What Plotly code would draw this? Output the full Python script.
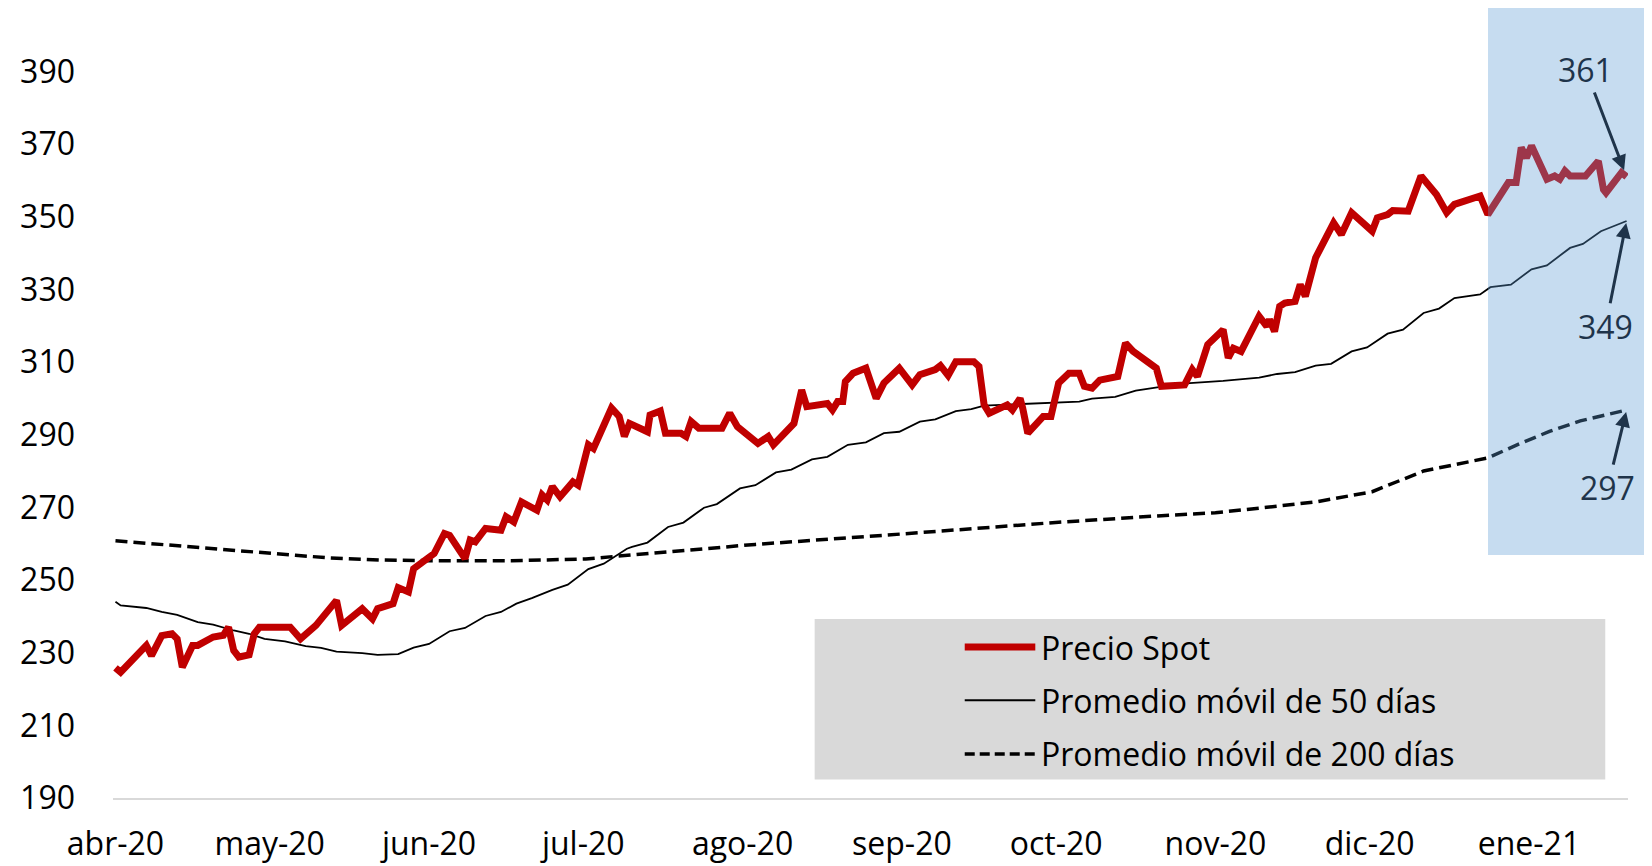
import pandas as pd
import plotly.graph_objects as go

# ---------------- data (days counted from 2020-04-01) ----------------
base_date = "2020-04-01"

spot_day = [0, 1, 6, 7, 9, 11, 12, 13, 15, 16, 19, 21, 22, 23, 24, 26, 27, 28, 34, 36,
            39, 41, 43, 44, 48, 50, 51, 54, 55, 57, 58, 62, 64, 65, 68, 69, 70, 72, 75, 76,
            77.5, 79, 82, 83, 84, 85, 86.5, 89, 90, 92, 93, 96.5, 98, 99, 100, 103.5, 104, 106, 107, 110,
            111, 112, 113.5, 118, 119.5, 121, 125, 127, 128, 132, 133.5, 134.5, 138.5, 139.5, 140.5, 141.5, 142, 143.5, 146, 148,
            149.5, 152.5, 155, 156.5, 159.5, 160.5, 162, 163.5, 167, 168, 169, 170, 173.5, 174.5, 176, 176.5, 177.5, 180.5, 182, 183.5,
            185.5, 187.5, 188.5, 190, 191.5, 195, 196.5, 198, 202.5, 203.5, 208, 209.5, 210.5, 212.5, 215.5, 216.5, 217.5, 219, 222.5, 224,
            224.5, 225.5, 226.5, 227.5, 229.5, 230.5, 231.5, 233.5, 237, 238.5, 240.5, 244.5, 245.5, 247.5, 248.5, 251.5, 254, 257, 259, 260.5,
            265.5, 267, 271, 272.5, 273.5, 274.5, 275.5, 278.5, 280, 281, 282, 283, 286, 288.5, 289.5, 290, 293, 294]
spot_val = [225.8, 224.6, 232, 229.2, 234.7, 235.2, 233.8, 226, 232, 232, 234.3, 234.8, 237, 230.6, 228.8, 229.4, 235.2, 237, 237, 233.8,
            237.5, 240.7, 244.4, 237.5, 242.1, 239.3, 242.1, 243.5, 247.9, 246.7, 253.1, 257.3, 262.8, 262.3, 255.9, 261, 260.5, 264.2, 263.7, 267.4,
            266, 271.5, 269.2, 273.4, 272, 275.7, 272.9, 277, 276.1, 287.2, 286.2, 297.3, 295, 289.5, 293.1, 290.8, 295.4, 296.5, 290.4, 290.4,
            289.5, 293.6, 291.8, 291.8, 295.9, 292.2, 287.6, 289.5, 287.2, 293.1, 302.3, 297.7, 298.6, 296.8, 299.1, 299.1, 304.6, 306.9, 308.3, 300,
            304.2, 308.3, 303.7, 306.5, 307.9, 309, 306.3, 310.1, 310.1, 308.8, 298.2, 295.9, 298.2, 296.8, 300, 297.3, 290.4, 295, 295, 304.2,
            306.9, 306.9, 303.3, 302.8, 305, 306, 315.2, 312.9, 308.3, 303.3, 303.7, 307.9, 306, 314.8, 318.9, 311.1, 313.8, 312.9, 322.6, 319.8,
            321.7, 318.4, 325.3, 326.2, 326.7, 331.3, 328.1, 338.7, 348.3, 345.1, 351.1, 346, 349.7, 350.6, 351.7, 351.5, 361.2, 356.1, 351.1, 353.4,
            355.7, 350.6, 359.4, 359.4, 369, 366.2, 369.5, 360.3, 361.2, 360.3, 362.6, 361.2, 361.2, 365.3, 357.5, 356.6, 362.1, 361]

ma50_day = [0, 1, 6, 9, 12, 16, 19, 23, 26, 29, 33, 37, 40, 43, 48, 51, 55, 58, 61, 65,
            68, 72, 75, 78, 81, 85, 88, 92, 95, 99.5, 100.5, 103.5, 107.5, 110.5, 114.5, 117, 121.5, 124.5, 128.5, 131.5,
            135.5, 138.5, 142.5, 146, 149.5, 152.5, 156.5, 159.5, 163.5, 166.5, 169, 172.5, 177.5, 181, 187.5, 190, 194.5, 198.5, 203, 209,
            215.5, 222.5, 226, 229.5, 233.5, 236.5, 240.5, 243.5, 247.5, 250.5, 254.5, 257.5, 260.5, 265.5, 267.5, 271.5, 275.5, 278.5, 283, 285.5,
            289, 294]
ma50_val = [244, 243, 242.3, 241.2, 240.4, 238.4, 237.7, 236.1, 235.2, 233.8, 233.1, 231.8, 231.3, 230.3, 229.9, 229.4, 229.6, 231.4, 232.4, 235.9,
            236.8, 240.1, 241.2, 243.5, 245, 247.3, 248.7, 253, 254.5, 258.6, 259.1, 260.3, 264.6, 265.8, 269.9, 270.9, 275.2, 276.1, 279.6, 280.4,
            283.2, 283.9, 287.2, 287.9, 290.4, 290.8, 293.6, 294.2, 296.5, 297, 298, 298.2, 298.5, 298.6, 299.1, 299.9, 300.4, 302.1, 303.1, 304.2,
            304.8, 305.7, 306.7, 307.2, 309, 309.5, 312.9, 314, 317.8, 318.9, 323.5, 324.7, 327.6, 328.6, 330.6, 331.3, 335.5, 336.6, 341.4, 342.5,
            346, 348.8]

ma200_day = [0, 6, 12.5, 19, 25.5, 35, 41.5, 51.5, 61, 77, 91.5, 106, 124.5, 149.5, 173, 183.5, 203.5, 214, 224, 234,
             244.5, 254.5, 267, 273, 279, 285, 294]
ma200_val = [260.8, 260.1, 259.2, 258.5, 257.8, 256.8, 256.1, 255.5, 255.3, 255.3, 255.8, 257.6, 259.8, 262.3, 264.7, 265.9, 267.7, 268.5, 270, 271.6,
             274.3, 280, 283.6, 287.4, 290.9, 293.8, 296.8]

month_ticks = ["2020-04-01", "2020-05-01", "2020-06-01", "2020-07-01", "2020-08-01",
               "2020-09-01", "2020-10-01", "2020-11-01", "2020-12-01", "2021-01-01"]
month_labels = ["abr-20", "may-20", "jun-20", "jul-20", "ago-20",
                "sep-20", "oct-20", "nov-20", "dic-20", "ene-21"]
y_ticks = [190, 210, 230, 250, 270, 290, 310, 330, 350, 370, 390]

series_names = ["Precio Spot", "Promedio móvil de 50 días", "Promedio móvil de 200 días"]

# ---------------- build ----------------
t0 = pd.Timestamp(base_date)
spot_x = t0 + pd.to_timedelta(spot_day, unit="D")
ma50_x = t0 + pd.to_timedelta(ma50_day, unit="D")
ma200_x = t0 + pd.to_timedelta(ma200_day, unit="D")

RED = "#C00000"
NAVY = "#1F344A"
FONT = "Open Sans"
FS = 32

fig = go.Figure()
fig.add_trace(go.Scatter(x=ma200_x, y=ma200_val, mode="lines", name=series_names[2],
                         line=dict(color="black", width=3.5, dash="12px,6px")))
fig.add_trace(go.Scatter(x=ma50_x, y=ma50_val, mode="lines", name=series_names[1],
                         line=dict(color="black", width=1.8)))
fig.add_trace(go.Scatter(x=spot_x, y=spot_val, mode="lines", name=series_names[0],
                         line=dict(color=RED, width=7)))

# page layout: body keeps its default 8px margin; target pixel positions are
# mapped to page pixels with small empirical corrections for the capture.
K = 0.979          # vertical capture factor
SX = 1.0046        # horizontal correction about x=1490
OFF = 8
W = 1652 - 2 * OFF
H = 868

def py(t):
    return t / K

def hx(x):
    return 1490 - (1490 - x) * SX

PL, PR = hx(103), 1628
PT, PB = py(34.4), py(795.5)               # y=400 .. y=190
L, R = PL - OFF, W - (PR - OFF)
T, B = PT - OFF, (OFF + H) - PB
pw, ph = PR - PL, PB - PT

# x range: 2020-04-01 at target x=105.5, 2021-01-01 at target x=1527.7
a_px, j_px = hx(105.5), hx(1527.7)
px_per_day = (j_px - a_px) / 275
x_start = t0 - pd.to_timedelta((a_px - PL) / px_per_day, unit="D")
x_end = t0 + pd.to_timedelta((PR - a_px) / px_per_day, unit="D")

def px_x(p):
    return (hx(p) - PL) / pw

def px_y(t):
    return (PB - py(t)) / ph

shapes = []
# highlighted recent period
shapes.append(dict(type="rect", xref="paper", yref="paper",
                   x0=px_x(1486.5), x1=px_x(1650), y0=px_y(553), y1=px_y(7.5),
                   fillcolor="#5B9BD5", opacity=0.35, line=dict(width=0), layer="above"))
# legend box
shapes.append(dict(type="rect", xref="paper", yref="paper",
                   x0=px_x(809), x1=px_x(1604.5), y0=px_y(777), y1=px_y(617),
                   fillcolor="#D9D9D9", line=dict(width=0), layer="below"))
legend_styles = [dict(color=RED, width=7), dict(color="black", width=1.8),
                 dict(color="black", width=3.5, dash="10px,5px")]
legend_rows = [645, 698, 751.5]
annotations = []
for name, st, yy in zip(series_names, legend_styles, legend_rows):
    shapes.append(dict(type="line", xref="paper", yref="paper",
                       x0=px_x(960), x1=px_x(1031), y0=px_y(yy), y1=px_y(yy),
                       line=st, layer="above"))
    annotations.append(dict(xref="paper", yref="paper", x=px_x(1035), y=px_y(yy),
                            text=name, showarrow=False, xanchor="left", yanchor="middle",
                            font=dict(family=FONT, size=FS, color="black")))

# end-value callouts
callouts = [
    (spot_x[-1], spot_val[-1], -41, -105, 7),
    (ma50_x[-1], ma50_val[-1], -21, 103, 2),
    (ma200_x[-1], ma200_val[-1], -19, 76, 2),
]
for cx, cy, ax, ay, so in callouts:
    annotations.append(dict(x=cx, y=cy, xref="x", yref="y", text=f"{cy:.0f}",
                            showarrow=True, ax=ax, ay=py(ay), arrowhead=2, arrowsize=1,
                            arrowwidth=3, arrowcolor=NAVY, standoff=so,
                            font=dict(family=FONT, size=FS, color=NAVY)))

fig.update_layout(
    width=W, height=H,
    margin=dict(l=L, r=R, t=T, b=B, pad=0),
    plot_bgcolor="white", paper_bgcolor="white",
    showlegend=False,
    font=dict(family=FONT, size=FS, color="black"),
    shapes=shapes, annotations=annotations,
)
fig.update_xaxes(type="date", range=[x_start, x_end],
                 tickvals=pd.to_datetime(month_ticks), ticktext=month_labels,
                 showgrid=False, zeroline=False, showline=True, linecolor="#D9D9D9",
                 linewidth=1.5, ticks="", ticklabelstandoff=17,
                 tickfont=dict(family=FONT, size=FS, color="black"))
fig.update_yaxes(range=[190, 400], tickvals=y_ticks, showgrid=False, zeroline=False,
                 showline=False, ticks="", ticklabelstandoff=37,
                 tickfont=dict(family=FONT, size=FS, color="black"))

fig.write_html("out.html", config={"displayModeBar": False})
